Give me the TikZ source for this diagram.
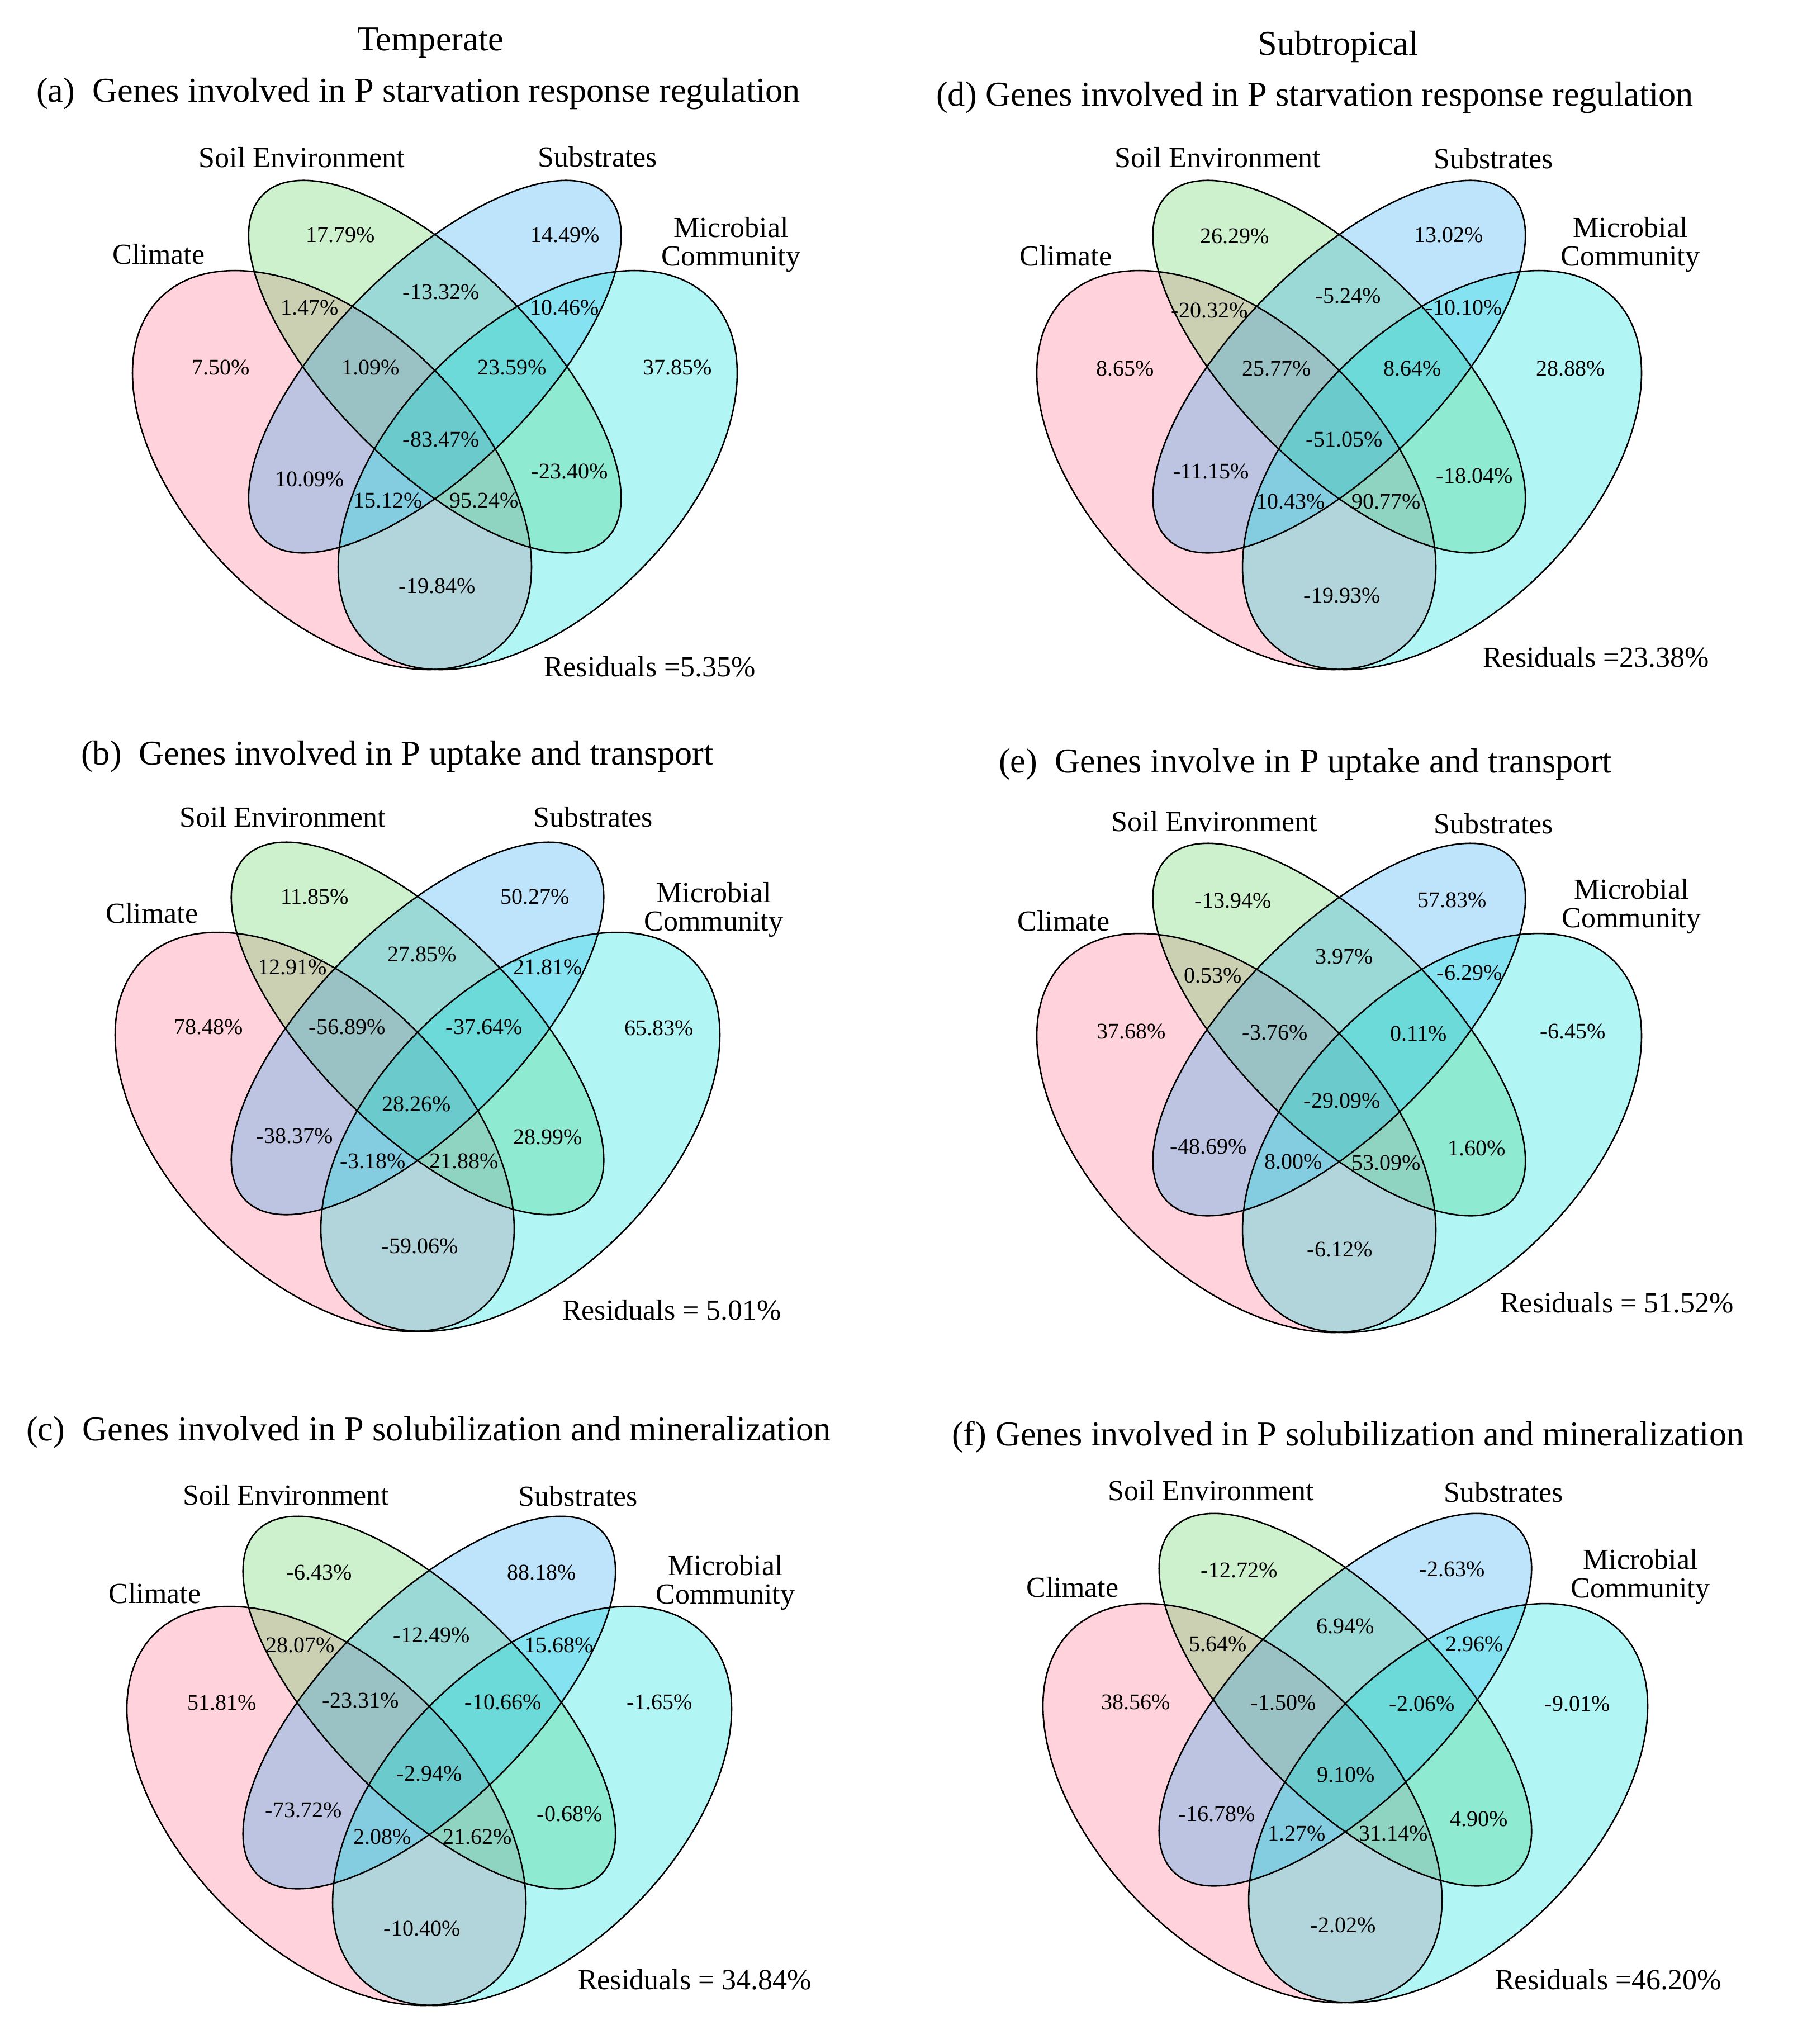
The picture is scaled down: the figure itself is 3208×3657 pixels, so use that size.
\documentclass[tikz,border=0pt]{standalone}
\usepackage{fontspec}
\setmainfont{Liberation Serif}
\usetikzlibrary{positioning}
\definecolor{couleurclimat}{RGB}{255,105,138}
\definecolor{couleursol}{RGB}{88,205,88}
\definecolor{couleursubstrat}{RGB}{38,165,238}
\definecolor{couleurmicrobe}{RGB}{0,222,222}

\begin{document}
\begin{tikzpicture}[x=1pt,y=-1pt]
% définition des paramètres
\tikzstyle bordvenn=[draw=black,line width=2.6pt]
\tikzstyle fondvenn=[fill opacity=0.3]
\tikzstyle pourcentvenn=[inner sep=0pt,font=\fontsize{40}{40}\selectfont]
\tikzstyle ensemblevenn=[inner sep=0pt,align=center,font=\fontsize{52}{51}\selectfont]
\tikzstyle titrevenn=[inner sep=0pt,anchor=west,font=\fontsize{62.3}{63}\selectfont]
\tikzstyle residuvenn=[inner sep=0pt,anchor=west,font=\fontsize{52}{52}\selectfont]
\newcommand{\grandaxe}{435pt}    % demi grand axe, le même pour les 4 ellipses
\newcommand{\petitclimat}{256pt} % demi petit axe : Climate et Microbial Community
\newcommand{\petitsol}{181pt}    % demi petit axe : Soil Environment et Substrates
\newcommand{\ecartx}{184} % centre des grandes ellipses
\newcommand{\ecarty}{192}
\newcommand{\ecartsol}{7} % centre des ellipses du milieu
% les ellipses (remplissage puis contours)
\newcommand{\ellipsesvenn}{
\fill[fondvenn,couleurclimat,rotate around={-45:(-\ecartx,\ecarty)}] (-\ecartx,\ecarty) ellipse [x radius=\grandaxe,y radius=\petitclimat];
\fill[fondvenn,couleursol,rotate around={-45:(0,\ecartsol)}] (0,\ecartsol) ellipse [x radius=\grandaxe,y radius=\petitsol];
\fill[fondvenn,couleursubstrat,rotate around={45:(0,\ecartsol)}] (0,\ecartsol) ellipse [x radius=\grandaxe,y radius=\petitsol];
\fill[fondvenn,couleurmicrobe,rotate around={45:(\ecartx,\ecarty)}] (\ecartx,\ecarty) ellipse [x radius=\grandaxe,y radius=\petitclimat];
\draw[bordvenn,rotate around={-45:(-\ecartx,\ecarty)}] (-\ecartx,\ecarty) ellipse [x radius=\grandaxe,y radius=\petitclimat];
\draw[bordvenn,rotate around={-45:(0,\ecartsol)}] (0,\ecartsol) ellipse [x radius=\grandaxe,y radius=\petitsol];
\draw[bordvenn,rotate around={45:(0,\ecartsol)}] (0,\ecartsol) ellipse [x radius=\grandaxe,y radius=\petitsol];
\draw[bordvenn,rotate around={45:(\ecartx,\ecarty)}] (\ecartx,\ecarty) ellipse [x radius=\grandaxe,y radius=\petitclimat];
}
\useasboundingbox (0,0) rectangle (3208,3657);
% panneau (a)
\begin{scope}[shift={(778,649)}]
\ellipsesvenn
\foreach \px/\py/\val [count=\i] in {-169/-229/17.79\%,233/-229/14.49\%,11/-127/-13.32\%,-224/-99/1.47\%,232/-99/10.46\%,-383/8/7.50\%,-115/8/1.09\%,138/8/23.59\%,434/8/37.85\%,11/137/-83.47\%,-224/208/10.09\%,241/194/-23.40\%,-84/246/15.12\%,88/246/95.24\%,4/399/-19.84\%}
    \node[pourcentvenn] (a-p\i) at (\px,\py) {\val};
\node[titrevenn,anchor=center] (a-zone) at (-8,-572) {Temperate};
\node[titrevenn] (a-titre) at (-713,-481) {(a)\ \ Genes involved in P starvation response regulation};
\node[ensemblevenn] (a-sol) at (-238,-367) {Soil Environment};
\node[ensemblevenn] (a-sub) at (291,-368) {Substrates};
\node[ensemblevenn] (a-clim) at (-494,-194) {Climate};
\node[ensemblevenn] (a-micro) at (530,-211) {Microbial\\Community};
\node[residuvenn] (a-res) at (195,544) {Residuals =5.35\%};
\end{scope}
% panneau (d)
\begin{scope}[shift={(2396,649)}]
\ellipsesvenn
\foreach \px/\py/\val [count=\i] in {-187/-227/26.29\%,196/-229/13.02\%,16/-120/-5.24\%,-232/-94/-20.32\%,223/-99/-10.10\%,-383/10/8.65\%,-112/10/25.77\%,131/10/8.64\%,414/10/28.88\%,9/137/-51.05\%,-229/194/-11.15\%,242/202/-18.04\%,-87/248/10.43\%,84/248/90.77\%,5/416/-19.93\%}
    \node[pourcentvenn] (d-p\i) at (\px,\py) {\val};
\node[titrevenn,anchor=center] (d-zone) at (-2,-565) {Subtropical};
\node[titrevenn] (d-titre) at (-721,-474) {(d) Genes involved in P starvation response regulation};
\node[ensemblevenn] (d-sol) at (-217,-367) {Soil Environment};
\node[ensemblevenn] (d-sub) at (276,-365) {Substrates};
\node[ensemblevenn] (d-clim) at (-489,-191) {Climate};
\node[ensemblevenn] (d-micro) at (521,-211) {Microbial\\Community};
\node[residuvenn] (d-res) at (257,527) {Residuals =23.38\%};
\end{scope}
% panneau (b)
\begin{scope}[shift={(747,1833)}]
\ellipsesvenn
\foreach \px/\py/\val [count=\i] in {-184/-229/11.85\%,210/-229/50.27\%,8/-126/27.85\%,-224/-103/12.91\%,233/-103/21.81\%,-374/4/78.48\%,-126/4/-56.89\%,119/4/-37.64\%,432/6/65.83\%,-2/142/28.26\%,-220/199/-38.37\%,233/201/28.99\%,-80/244/-3.18\%,83/244/21.88\%,4/396/-59.06\%}
    \node[pourcentvenn] (b-p\i) at (\px,\py) {\val};
\node[titrevenn] (b-titre) at (-602,-480) {(b)\ \ Genes involved in P uptake and transport};
\node[ensemblevenn] (b-sol) at (-241,-371) {Soil Environment};
\node[ensemblevenn] (b-sub) at (314,-371) {Substrates};
\node[ensemblevenn] (b-clim) at (-475,-199) {Climate};
\node[ensemblevenn] (b-micro) at (530,-205) {Microbial\\Community};
\node[residuvenn] (b-res) at (259,511) {Residuals = 5.01\%};
\end{scope}
% panneau (e)
\begin{scope}[shift={(2396,1835)}]
\ellipsesvenn
\foreach \px/\py/\val [count=\i] in {-190/-224/-13.94\%,202/-225/57.83\%,9/-124/3.97\%,-226/-90/0.53\%,233/-95/-6.29\%,-372/10/37.68\%,-115/12/-3.76\%,142/14/0.11\%,418/10/-6.45\%,5/134/-29.09\%,-234/216/-48.69\%,246/219/1.60\%,-82/243/8.00\%,84/245/53.09\%,1/400/-6.12\%}
    \node[pourcentvenn] (e-p\i) at (\px,\py) {\val};
\node[titrevenn] (e-titre) at (-609,-468) {(e)\ \ Genes involve in P uptake and transport};
\node[ensemblevenn] (e-sol) at (-223,-365) {Soil Environment};
\node[ensemblevenn] (e-sub) at (276,-361) {Substrates};
\node[ensemblevenn] (e-clim) at (-493,-187) {Climate};
\node[ensemblevenn] (e-micro) at (523,-213) {Microbial\\Community};
\node[residuvenn] (e-res) at (288,496) {Residuals = 51.52\%};
\end{scope}
% panneau (c)
\begin{scope}[shift={(768,3039)}]
\ellipsesvenn
\foreach \px/\py/\val [count=\i] in {-197/-226/-6.43\%,201/-226/88.18\%,4/-114/-12.49\%,-231/-96/28.07\%,232/-96/15.68\%,-371/7/51.81\%,-123/3/-23.31\%,132/6/-10.66\%,412/6/-1.65\%,0/134/-2.94\%,-225/199/-73.72\%,251/206/-0.68\%,-84/247/2.08\%,86/247/21.62\%,-13/411/-10.40\%}
    \node[pourcentvenn] (c-p\i) at (\px,\py) {\val};
\node[titrevenn] (c-titre) at (-721,-477) {(c)\ \ Genes involved in P solubilization and mineralization};
\node[ensemblevenn] (c-sol) at (-256,-364) {Soil Environment};
\node[ensemblevenn] (c-sub) at (266,-362) {Substrates};
\node[ensemblevenn] (c-clim) at (-491,-188) {Climate};
\node[ensemblevenn] (c-micro) at (530,-207) {Microbial\\Community};
\node[residuvenn] (c-res) at (266,503) {Residuals = 34.84\%};
\end{scope}
% panneau (f)
\begin{scope}[shift={(2407,3034)}]
\ellipsesvenn
\foreach \px/\py/\val [count=\i] in {-190/-225/-12.72\%,191/-227/-2.63\%,0/-125/6.94\%,-228/-93/5.64\%,231/-93/2.96\%,-375/11/38.56\%,-111/12/-1.50\%,137/14/-2.06\%,415/14/-9.01\%,1/141/9.10\%,-230/211/-16.78\%,239/220/4.90\%,-87/246/1.27\%,86/246/31.14\%,-4/410/-2.02\%}
    \node[pourcentvenn] (f-p\i) at (\px,\py) {\val};
\node[titrevenn] (f-titre) at (-704,-463) {(f) Genes involved in P solubilization and mineralization};
\node[ensemblevenn] (f-sol) at (-240,-367) {Soil Environment};
\node[ensemblevenn] (f-sub) at (283,-364) {Substrates};
\node[ensemblevenn] (f-clim) at (-488,-194) {Climate};
\node[ensemblevenn] (f-micro) at (528,-213) {Microbial\\Community};
\node[residuvenn] (f-res) at (268,508) {Residuals =46.20\%};
\end{scope}
\end{tikzpicture}
\end{document}
